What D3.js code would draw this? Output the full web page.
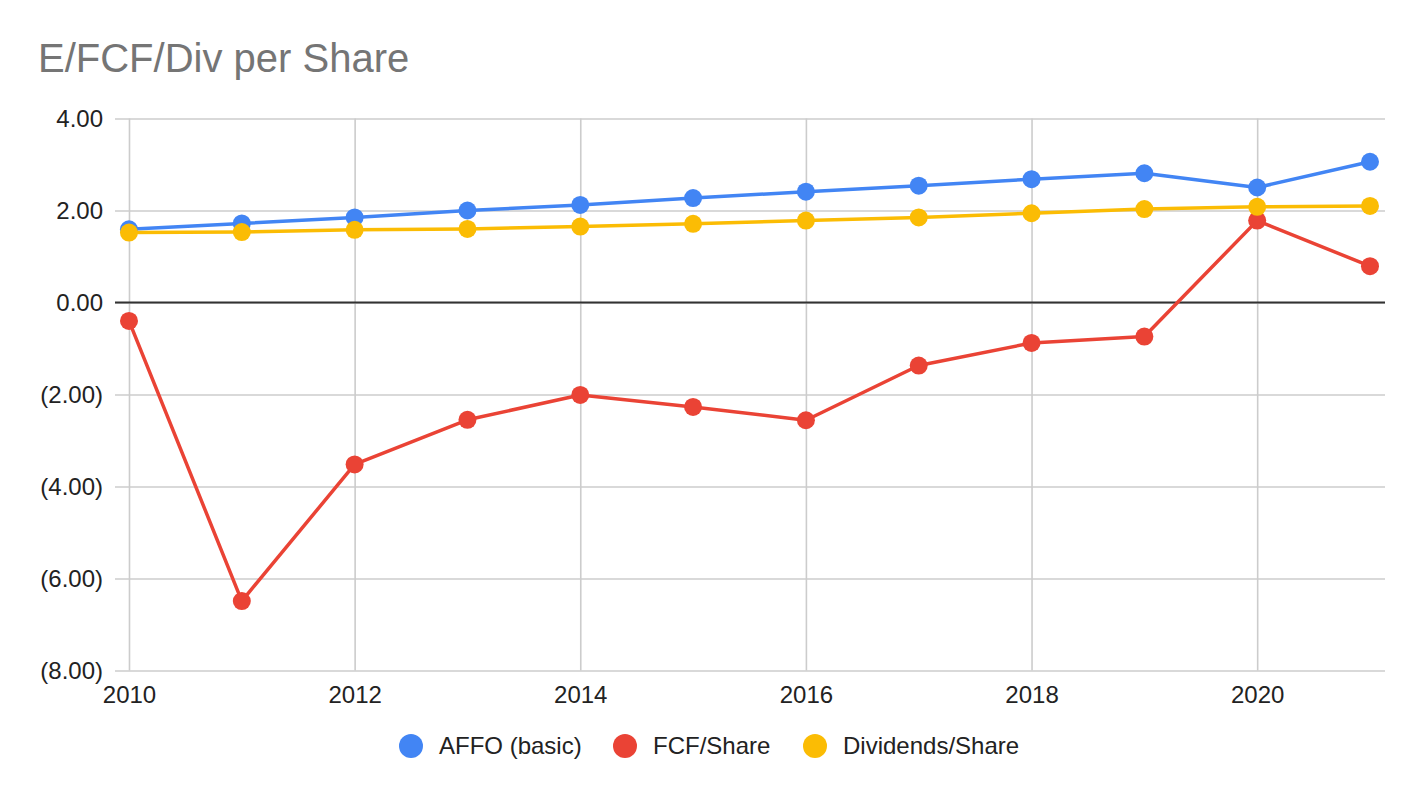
<!DOCTYPE html>
<html>
<head>
<meta charset="utf-8">
<script src="https://cdn.jsdelivr.net/npm/d3@7"></script>
<style>
  body { margin: 0; background: #fff; }
  svg { display: block; font-family: Arial, "Liberation Sans", sans-serif; }
  .grid line { stroke: #cccccc; stroke-width: 1.6; }
  .grid text { fill: #222; font-size: 24px; }
  .grid .domain { display: none; }
</style>
</head>
<body>
<svg width="1424" height="798"></svg>
<script>
const years = [2010, 2011, 2012, 2013, 2014, 2015, 2016, 2017, 2018, 2019, 2020, 2021];
const affo = [1.59, 1.72, 1.85, 2.00, 2.12, 2.27, 2.41, 2.54, 2.68, 2.81, 2.50, 3.06];
const fcf = [-0.40, -6.49, -3.52, -2.55, -2.01, -2.27, -2.56, -1.37, -0.88, -0.74, 1.78, 0.79];
const dividends = [1.52, 1.53, 1.58, 1.60, 1.65, 1.71, 1.78, 1.85, 1.94, 2.03, 2.08, 2.10];
const yTicks = [-8, -6, -4, -2, 0, 2, 4];
const xTicks = [2010, 2012, 2014, 2016, 2018, 2020];

const series = [
    { name: 'AFFO (basic)', values: affo, color: '#4285f4' },
    { name: 'FCF/Share', values: fcf, color: '#ea4335' },
    { name: 'Dividends/Share', values: dividends, color: '#fbbc04' }
];

const svg = d3.select('svg');

const plotLeft = 115, plotRight = 1385, plotTop = 118.5, plotBottom = 670.5;

const x = d3.scaleLinear()
    .domain([2009.876, 2021.133])
    .range([plotLeft, plotRight]);

const y = d3.scaleLinear()
    .domain([-8, 4])
    .range([plotBottom, plotTop]);

const fmt = d3.format('.2f');
const yFormat = (v) => v < 0 ? `(${fmt(-v)})` : fmt(v);

// horizontal grid + y labels
svg.append('g')
    .attr('class', 'grid')
    .attr('transform', `translate(${plotLeft}, 0)`)
    .call(d3.axisLeft(y)
        .tickValues(yTicks)
        .tickSize(-(plotRight - plotLeft))
        .tickPadding(12)
        .tickFormat(yFormat));

// vertical grid + x labels
svg.append('g')
    .attr('class', 'grid')
    .attr('transform', `translate(0, ${plotBottom})`)
    .call(d3.axisBottom(x)
        .tickValues(xTicks)
        .tickSize(-(plotBottom - plotTop))
        .tickPadding(15)
        .tickFormat(d3.format('d')));

// zero baseline
svg.append('line')
    .attr('x1', plotLeft)
    .attr('x2', plotRight)
    .attr('y1', y(0))
    .attr('y2', y(0))
    .attr('stroke', '#333')
    .attr('stroke-width', 2);

const line = d3.line()
    .x((d, i) => x(years[i]))
    .y((d) => y(d));

series.forEach((s) => {
    const g = svg.append('g');
    g.append('path')
        .datum(s.values)
        .attr('fill', 'none')
        .attr('stroke', s.color)
        .attr('stroke-width', 3.5)
        .attr('stroke-linejoin', 'round')
        .attr('d', line);
    g.selectAll('circle')
        .data(s.values)
        .enter()
        .append('circle')
        .attr('cx', (d, i) => x(years[i]))
        .attr('cy', (d) => y(d))
        .attr('r', 9)
        .attr('fill', s.color);
});

// title
svg.append('text')
    .attr('x', 38)
    .attr('y', 72)
    .attr('fill', '#757575')
    .style('font-size', '40px')
    .text('E/FCF/Div per Share');

// legend
const legendX = [411, 625, 815];
const legend = svg.append('g');
series.forEach((s, i) => {
    legend.append('circle')
        .attr('cx', legendX[i])
        .attr('cy', 746)
        .attr('r', 12)
        .attr('fill', s.color);
    legend.append('text')
        .attr('x', legendX[i] + 28)
        .attr('y', 754)
        .attr('fill', '#222')
        .style('font-size', '24px')
        .text(s.name);
});
</script>
</body>
</html>
